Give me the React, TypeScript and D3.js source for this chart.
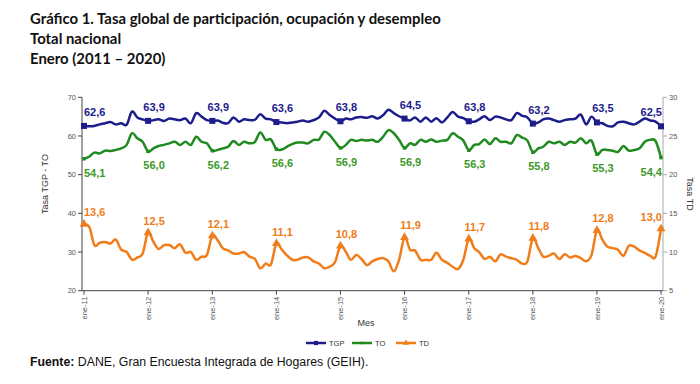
import React from 'react';
import * as d3 from 'd3';

// Mercado laboral, total nacional, ene-2011 a ene-2020 (mensual)
const tgpValues = [
  62.6, 62.5, 62.6, 63.0, 63.3, 63.6, 63.0, 63.3, 62.9, 66.3, 64.8, 64.3,
  63.9, 64.1, 64.3, 63.9, 64.5, 64.3, 64.1, 64.5, 63.3, 65.9, 65.0, 64.1,
  63.9, 64.0, 63.4, 63.3, 64.8, 63.7, 64.3, 64.1, 64.2, 65.6, 64.5, 64.3,
  63.6, 63.5, 63.3, 63.5, 63.7, 64.0, 63.7, 64.1, 64.8, 66.5, 65.4, 64.5,
  63.8, 64.5, 64.3, 64.8, 64.9, 64.7, 65.1, 64.5, 65.4, 66.8, 65.9, 65.1,
  64.5, 64.0, 64.8, 63.7, 64.8, 63.7, 64.6, 63.5, 64.8, 66.2, 65.0, 64.6,
  63.8, 63.7, 64.3, 65.1, 64.1, 65.0, 64.8, 64.3, 64.1, 65.9, 65.2, 64.8,
  63.2, 63.5, 64.3, 64.5, 64.1, 63.7, 64.1, 64.3, 64.5, 65.5, 63.0, 65.0,
  63.5, 63.3, 62.6, 62.5, 63.5, 63.7, 63.3, 63.0, 63.7, 64.5, 64.0, 63.7,
  62.5,
];

const toValues = [
  54.1, 54.7, 55.7, 55.5, 56.2, 56.1, 56.4, 56.8, 57.7, 60.7, 59.4, 58.5,
  56.0, 56.8, 57.4, 57.7, 58.1, 58.5, 57.7, 58.5, 57.7, 59.8, 58.5, 58.1,
  56.2, 56.4, 56.8, 57.2, 58.7, 57.7, 58.5, 58.1, 58.5, 60.9, 59.0, 59.1,
  56.6, 56.5, 57.2, 57.9, 58.3, 58.3, 58.1, 59.0, 59.1, 61.1, 60.2, 58.5,
  56.9, 57.7, 59.0, 58.7, 59.0, 58.8, 59.0, 58.5, 59.8, 61.5, 60.7, 59.0,
  56.9, 58.1, 57.7, 59.0, 58.5, 59.1, 58.5, 58.8, 59.0, 60.7, 59.8, 58.8,
  56.3, 57.7, 57.9, 59.1, 57.9, 59.4, 58.5, 58.5, 58.1, 60.2, 59.6, 58.8,
  55.8, 56.8, 57.2, 58.5, 58.1, 58.5, 57.7, 58.5, 58.3, 59.4, 58.1, 58.8,
  55.3, 56.4, 56.4, 56.2, 55.9, 57.4, 56.2, 56.4, 56.8, 58.5, 59.0, 58.7,
  54.4,
];

const tdValues = [
  13.6, 13.2, 10.9, 11.2, 11.3, 11.1, 11.6, 10.3, 10.0, 9.0, 9.3, 9.8,
  12.5, 11.3, 10.4, 10.9, 10.9, 10.5, 11.0, 9.9, 10.0, 9.0, 9.4, 9.6,
  12.1, 11.5, 10.5, 10.2, 9.8, 9.8, 10.0, 9.4, 9.1, 7.9, 8.5, 8.4,
  11.1, 10.3, 9.6, 9.0, 9.0, 9.3, 9.3, 8.8, 8.5, 7.9, 8.1, 8.7,
  10.8, 10.0, 9.0, 9.6, 9.1, 8.3, 8.8, 9.1, 9.2, 8.8, 7.5, 9.0,
  11.9, 10.3, 10.2, 9.0, 9.0, 9.0, 9.9, 9.0, 8.6, 8.1, 7.8, 9.0,
  11.7, 10.5, 10.0, 9.1, 9.4, 8.8, 9.7, 9.4, 9.2, 9.0, 8.5, 8.8,
  11.8, 10.5, 9.4, 9.5, 9.8, 9.1, 9.7, 9.3, 9.5, 9.2, 8.8, 9.6,
  12.8, 11.6, 10.7, 10.5, 10.3, 9.5, 10.8, 10.7, 10.2, 9.9, 9.5, 9.4,
  13.0,
];

const tickLabels = ['ene-11', 'ene-12', 'ene-13', 'ene-14', 'ene-15', 'ene-16', 'ene-17', 'ene-18', 'ene-19', 'ene-20'];
const leftTicks = [20, 30, 40, 50, 60, 70];
const rightTicks = [5, 10, 15, 20, 25, 30];

const months = d3.timeMonth.range(new Date(2011, 0, 1), new Date(2020, 0, 2));

const C_TGP = '#1c1c8c';
const C_TO = '#1f8a1f';
const C_TD = '#f07d1a';
const LBL_TO = '#3c9a28';

const fontAxis = '"Liberation Sans", Arial, sans-serif';
const fontTitle = 'Lato, "Open Sans", sans-serif';

export default function App() {
  const left = 82, right = 663, top = 97.3, bottom = 290.7;

  const x = d3.scaleTime()
    .domain([months[0], months[months.length - 1]])
    .range([84, 661]);
  const yL = d3.scaleLinear().domain([20, 70]).range([bottom, top]);
  const yR = d3.scaleLinear().domain([5, 30]).range([bottom, top]);

  const lineL = d3.line<number>()
    .x((_, i) => x(months[i]))
    .y(d => yL(d))
    .curve(d3.curveCatmullRom.alpha(0));
  const lineR = d3.line<number>()
    .x((_, i) => x(months[i]))
    .y(d => yR(d))
    .curve(d3.curveCatmullRom.alpha(0));

  const janIdx = months.map((m, i) => (m.getMonth() === 0 ? i : -1)).filter(i => i >= 0);
  const fmt = (v: number) => v.toFixed(1).replace('.', ',');

  const labelX = (k: number, i: number) => {
    const px = x(months[i]);
    if (k === 0) return { x: px, anchor: 'start' };
    if (k === janIdx.length - 1) return { x: px + 1, anchor: 'end' };
    return { x: px + 6, anchor: 'middle' };
  };

  const sq = d3.symbol(d3.symbolSquare, 36)();
  const dot = d3.symbol(d3.symbolSquare, 12)();
  const tri = d3.symbol(d3.symbolTriangle, 34)();

  const series = [
    { name: 'TGP', values: tgpValues, path: lineL(tgpValues), y: yL, color: C_TGP, marker: sq },
    { name: 'TO', values: toValues, path: lineL(toValues), y: yL, color: C_TO, marker: dot },
    { name: 'TD', values: tdValues, path: lineR(tdValues), y: yR, color: C_TD, marker: tri },
  ];

  return (
    <svg width={700} height={384} style={{ position: 'absolute', left: 0, top: 0, background: '#fff' }}>
      {/* titulo */}
      <g fontFamily={fontTitle} fontWeight="bold" fontSize={14.9} fill="#111">
        <text x={30} y={24}>Gráfico 1. Tasa global de participación, ocupación y desempleo</text>
        <text x={30} y={44}>Total nacional</text>
        <text x={30} y={64}>Enero (2011 – 2020)</text>
      </g>

      {/* eje izquierdo */}
      <line x1={left} x2={left} y1={top} y2={bottom} stroke="#444" strokeWidth={1} />
      {leftTicks.map(t => (
        <g key={t}>
          <line x1={left - 4} x2={left} y1={yL(t)} y2={yL(t)} stroke="#444" />
          <text x={left - 6} y={yL(t)} dy="0.35em" textAnchor="end" fontSize={7.5} fill="#555" fontFamily={fontAxis}>{t}</text>
        </g>
      ))}
      <text transform={`translate(48,${(top + bottom) / 2 - 10}) rotate(-90)`} textAnchor="middle" fontSize={9} fill="#333" fontFamily={fontAxis}>Tasa TGP - TO</text>

      {/* eje derecho */}
      <line x1={right} x2={right} y1={top} y2={bottom} stroke="#aaa" strokeWidth={1} />
      {rightTicks.map(t => (
        <g key={t}>
          <line x1={right} x2={right + 4} y1={yR(t)} y2={yR(t)} stroke="#aaa" />
          <text x={right + 6} y={yR(t)} dy="0.35em" fontSize={7.5} fill="#555" fontFamily={fontAxis}>{t}</text>
        </g>
      ))}
      <text transform={`translate(687,${(top + bottom) / 2}) rotate(90)`} textAnchor="middle" fontSize={9} fill="#333" fontFamily={fontAxis}>Tasa TD</text>

      {/* eje x */}
      <line x1={left} x2={right} y1={bottom} y2={bottom} stroke="#444" />
      {janIdx.map((i, k) => (
        <g key={i}>
          <line x1={x(months[i])} x2={x(months[i])} y1={bottom} y2={bottom + 4} stroke="#444" />
          <text transform={`translate(${x(months[i])},${bottom + 6}) rotate(-90)`} textAnchor="end" dy="0.35em" fontSize={7.5} fill="#555" fontFamily={fontAxis}>{tickLabels[k]}</text>
        </g>
      ))}
      <text x={366} y={326} textAnchor="middle" fontSize={9} fill="#333" fontFamily={fontAxis}>Mes</text>

      {/* series */}
      {series.map(s => (
        <g key={s.name}>
          <path d={s.path ?? ''} fill="none" stroke={s.color} strokeWidth={2.5} strokeLinejoin="round" />
          {janIdx.map(i => (
            <path key={i} d={s.marker ?? ''} transform={`translate(${x(months[i])},${s.y(s.values[i])})`} fill={s.color} />
          ))}
        </g>
      ))}

      {/* etiquetas de datos */}
      <g fontFamily={fontAxis} fontWeight="bold" fontSize={11}>
        {janIdx.map((i, k) => {
          const p = labelX(k, i);
          return (
            <g key={i}>
              <text x={p.x} y={yL(tgpValues[i]) - 10} textAnchor={p.anchor} fill={C_TGP}>{fmt(tgpValues[i])}</text>
              <text x={p.x} y={yL(toValues[i]) + 18} textAnchor={p.anchor} fill={LBL_TO}>{fmt(toValues[i])}</text>
              <text x={p.x} y={yR(tdValues[i]) - 8} textAnchor={p.anchor} fill={C_TD}>{fmt(tdValues[i])}</text>
            </g>
          );
        })}
      </g>

      {/* leyenda */}
      <g fontFamily={fontAxis} fontSize={7.5} fill="#333">
        {series.map((s, k) => {
          const lx = [306, 352, 396][k];
          return (
            <g key={s.name}>
              <line x1={lx} x2={lx + 20} y1={343} y2={343} stroke={s.color} strokeWidth={2.5} />
              <path d={s.marker ?? ''} transform={`translate(${lx + 10},343) scale(0.7)`} fill={s.color} />
              <text x={lx + 23} y={343} dy="0.35em">{s.name}</text>
            </g>
          );
        })}
      </g>

      {/* fuente */}
      <text x={30} y={366} fontFamily={fontAxis} fontSize={12.3} fill="#111">
        <tspan fontWeight="bold">Fuente:</tspan> DANE, Gran Encuesta Integrada de Hogares (GEIH).
      </text>
    </svg>
  );
}
